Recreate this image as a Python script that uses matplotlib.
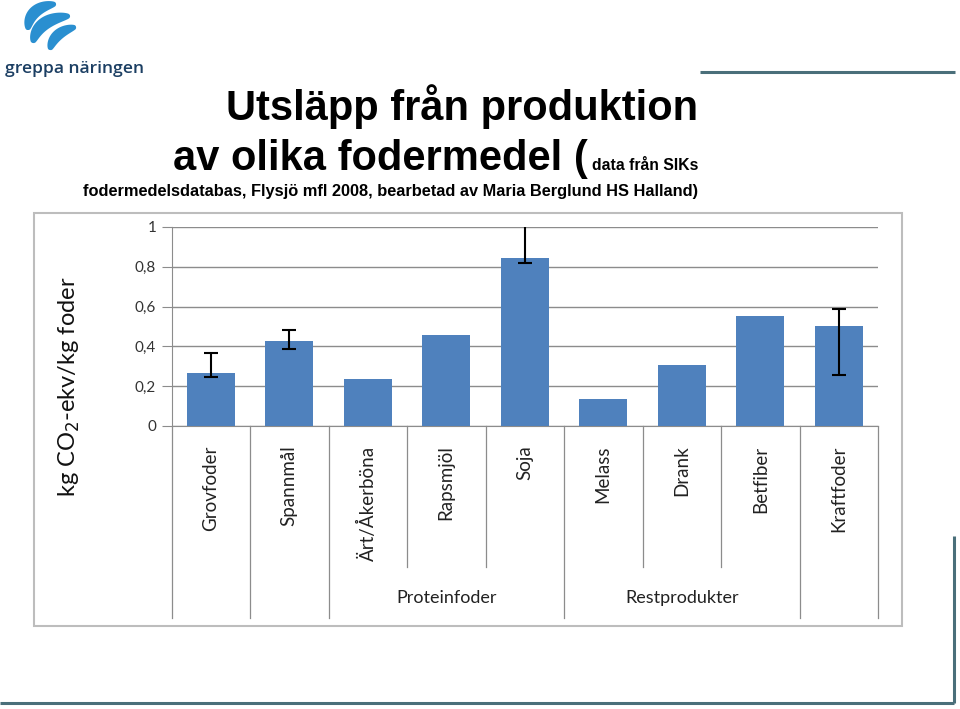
import numpy as np
import matplotlib
matplotlib.use("Agg")
import matplotlib.pyplot as plt
from matplotlib.patches import Polygon, Rectangle
import matplotlib.transforms as mtransforms

# ---- data ----
categories = ["Grovfoder", "Spannmål", "Ärt/Åkerböna", "Rapsmjöl", "Soja",
              "Melass", "Drank", "Betfiber", "Kraftfoder"]
values = [0.265, 0.425, 0.235, 0.455, 0.845, 0.137, 0.305, 0.553, 0.504]
err_low = [0.247, 0.385, None, None, 0.82, None, None, None, 0.258]
err_high = [0.367, 0.48, None, None, 1.05, None, None, None, 0.589]
groups = [("Proteinfoder", 2, 4), ("Restprodukter", 5, 7)]
yticks = [0, 0.2, 0.4, 0.6, 0.8, 1.0]
ytick_labels = ["0", "0,2", "0,4", "0,6", "0,8", "1"]

W, H = 960, 709
fig = plt.figure(figsize=(W / 100, H / 100), dpi=100)
fig.patch.set_facecolor("white")

BAR = "#4F81BD"
GRID = "#8C8C8C"
LBL_FONT = ["Lato", "DejaVu Sans"]

# ---- main axes ----
x0, x1, ytop, ybot = 171.5, 878, 227, 426
ax = fig.add_axes([x0 / W, 1 - ybot / H, (x1 - x0) / W, (ybot - ytop) / H])
x = np.arange(len(categories))
ax.bar(x, values, width=0.61, color=BAR, zorder=3)

idx = [i for i in range(len(categories)) if err_low[i] is not None]
ev = np.array([values[i] for i in idx])
lo = np.array([err_low[i] for i in idx])
hi = np.array([err_high[i] for i in idx])
ax.errorbar(x[idx], ev, yerr=[ev - lo, hi - ev], fmt="none", ecolor="black",
            elinewidth=1.5, capsize=5, capthick=1.5, zorder=4)

ax.set_xlim(-0.5, len(categories) - 0.5)
ax.set_ylim(0, 1)
ax.set_yticks(yticks)
ax.set_yticklabels(ytick_labels, family=LBL_FONT, fontsize=11, color="#333333")
ax.yaxis.grid(True, color=GRID, linewidth=1.0, zorder=0)
ax.set_axisbelow(True)
ax.tick_params(axis="y", length=7, color=GRID, pad=4)
ax.set_xticks(x)
ax.set_xticklabels(categories, rotation=90, va="top", ha="center",
                   family=LBL_FONT, fontsize=13.5, color="#222222")
ax.tick_params(axis="x", length=0, pad=14)
for s in ["top", "right"]:
    ax.spines[s].set_visible(False)
ax.spines["left"].set_color(GRID)
ax.spines["bottom"].set_color(GRID)
ax.set_ylabel("kg CO$_2$-ekv/kg foder", family=LBL_FONT, fontsize=17,
              color="#111111")
ax.yaxis.set_label_coords(-0.126, 0.2)

# category separators and group labels
trans = mtransforms.blended_transform_factory(ax.transData, ax.transAxes)
long_y = -(618 - ybot) / (ybot - ytop)
short_y = -(567 - ybot) / (ybot - ytop)
inner = set()
for name, a, b in groups:
    for k in range(a, b):
        inner.add(k + 0.5)
for k in range(len(categories) + 1):
    bx = k - 0.5
    y_end = short_y if bx in inner else long_y
    ax.plot([bx, bx], [0, y_end], transform=trans, color=GRID, lw=0.9,
            clip_on=False)
for name, a, b in groups:
    ax.text((a + b) / 2, -(598 - ybot) / (ybot - ytop), name, transform=trans,
            ha="center", va="center", family=LBL_FONT, fontsize=13,
            color="#222222")

# ---- overlay for decorations ----
ov = fig.add_axes([0, 0, 1, 1], zorder=-1)
ov.set_xlim(0, W)
ov.set_ylim(H, 0)
ov.axis("off")

# chart frame
ov.add_patch(Rectangle((34, 213), 868, 413, fill=False, edgecolor="#BDBDBD", lw=1.5))

# title
TF = "Liberation Sans"
ov.text(698, 120, "Utsläpp från produktion", ha="right", va="baseline",
        family=TF, weight="bold", fontsize=30, color="black")
ov.text(588, 170, "av olika fodermedel (", ha="right", va="baseline",
        family=TF, weight="bold", fontsize=30, color="black")
ov.text(698, 170, "data från SIKs", ha="right", va="baseline",
        family=TF, weight="bold", fontsize=11.3, color="black")
ov.text(698, 196, "fodermedelsdatabas, Flysjö mfl 2008, bearbetad av Maria Berglund HS Halland)",
        ha="right", va="baseline", family=TF, weight="bold", fontsize=11.8, color="black")

# decorative lines
LC = "#4A6F7A"
ov.plot([700, 955], [72, 72], color=LC, lw=2.2, solid_capstyle="butt")
ov.plot([954, 954], [536, 703], color=LC, lw=2.2, solid_capstyle="butt")
ov.plot([0, 954], [703, 703], color=LC, lw=2.2, solid_capstyle="butt")

# logo stripes (quadratic bezier crescents)
def stripe(p0, mid, p2, thick):
    p0, mid, p2 = map(np.array, (p0, mid, p2))
    c = 2 * mid - (p0 + p2) / 2
    t = np.linspace(0, 1, 60)[:, None]
    pts = (1 - t) ** 2 * p0 + 2 * (1 - t) * t * c + t ** 2 * p2
    d = 2 * (1 - t) * (c - p0) + 2 * t * (p2 - c)
    n = np.column_stack([-d[:, 1], d[:, 0]])
    n /= np.linalg.norm(n, axis=1)[:, None]
    w = thick * np.sin(np.pi * t) ** 0.5 / 2 + 1.0
    a = pts + n * w
    b = pts - n * w
    ov.add_patch(Polygon(np.vstack([a, b[::-1]]), closed=True,
                         facecolor="#2A8FD0", edgecolor="none"))

stripe((28, 30), (35, 12), (56, 4), 10)
stripe((33, 43), (44, 24), (70, 16), 11)
stripe((50, 50), (58, 35), (76, 27), 9)

ov.text(5, 73, "greppa näringen", ha="left", va="baseline",
        family=["Open Sans", "DejaVu Sans"], fontsize=12.6, weight="semibold",
        color="#1C3F63")

fig.savefig("out.png", dpi=100)
